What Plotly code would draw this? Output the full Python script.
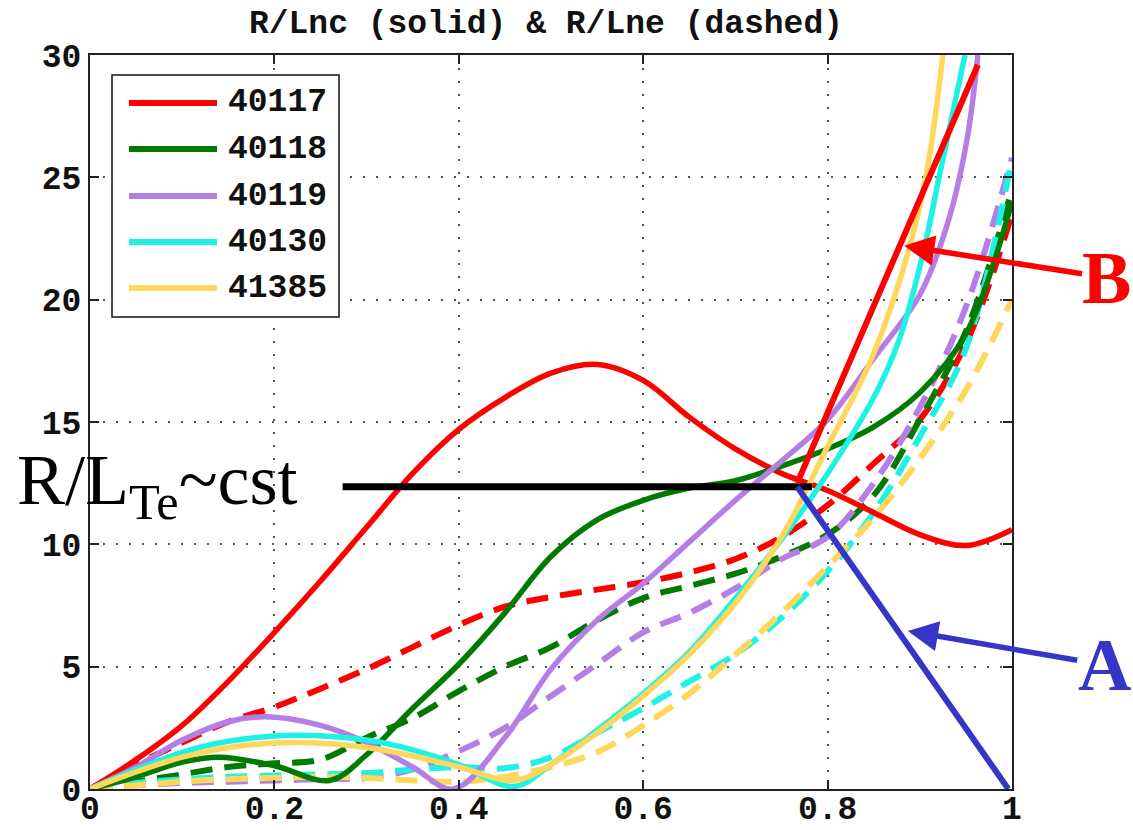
import plotly.graph_objects as go

# ---------------- data ----------------
title_text = "R/Lnc (solid) & R/Lne (dashed)"
shots = ["40117", "40118", "40119", "40130", "41385"]
colors = ["#ff0000", "#007a00", "#b47ee6", "#1ef2e4", "#ffd75c"]

# solid curves: R/Lnc
x_sol_40117 = [0, 0.05, 0.1, 0.15, 0.2, 0.25, 0.3, 0.35, 0.4, 0.45, 0.5, 0.55, 0.6, 0.65, 0.7, 0.75, 0.8, 0.85, 0.9, 0.95, 1.0]
y_sol_40117 = [0, 1.2, 2.6, 4.4, 6.4, 8.5, 10.7, 12.9, 14.7, 16.0, 17.0, 17.35, 16.7, 15.2, 13.9, 12.9, 12.2, 11.3, 10.4, 9.95, 10.6]

x_sol_40118 = [0, 0.05, 0.1, 0.14, 0.2, 0.26, 0.3, 0.35, 0.4, 0.45, 0.5, 0.55, 0.6, 0.65, 0.7, 0.75, 0.8, 0.85, 0.9, 0.95, 1.0]
y_sol_40118 = [0, 0.5, 1.1, 1.3, 0.95, 0.35, 1.4, 3.3, 5.1, 7.2, 9.5, 11.0, 11.8, 12.3, 12.6, 13.2, 13.9, 14.8, 16.2, 18.6, 24.0]

x_sol_40119 = [0, 0.05, 0.1, 0.15, 0.19, 0.25, 0.3, 0.35, 0.394, 0.45, 0.5, 0.55, 0.6, 0.65, 0.7, 0.75, 0.8, 0.85, 0.9, 0.93, 0.951, 0.963]
y_sol_40119 = [0, 0.9, 2.0, 2.75, 2.95, 2.6, 1.9, 0.9, 0.0, 2.1, 4.9, 6.9, 8.4, 10.1, 11.8, 13.4, 15.1, 17.6, 20.2, 23.1, 26.5, 30.0]

x_sol_40130 = [0, 0.05, 0.1, 0.15, 0.22, 0.3, 0.35, 0.4, 0.46, 0.5, 0.55, 0.6, 0.65, 0.7, 0.75, 0.8, 0.85, 0.878, 0.903, 0.922, 0.949]
y_sol_40130 = [0, 0.8, 1.5, 1.95, 2.2, 2.0, 1.6, 1.0, 0.1, 1.0, 2.4, 3.9, 5.6, 7.8, 10.2, 12.9, 16.0, 18.4, 21.8, 25.2, 30.0]

x_sol_41385 = [0, 0.05, 0.1, 0.15, 0.22, 0.3, 0.35, 0.4, 0.46, 0.5, 0.55, 0.6, 0.65, 0.7, 0.75, 0.8, 0.85, 0.9, 0.925]
y_sol_41385 = [0, 0.7, 1.3, 1.7, 1.9, 1.7, 1.35, 0.9, 0.35, 1.0, 2.3, 3.8, 5.5, 7.6, 10.3, 14.0, 17.8, 23.8, 30.0]

# dashed curves: R/Lne
x_dash = [0, 0.05, 0.1, 0.15, 0.2, 0.25, 0.3, 0.35, 0.4, 0.45, 0.5, 0.55, 0.6, 0.65, 0.7, 0.75, 0.8, 0.85, 0.9, 0.95, 1.0]
y_dash_40117 = [0, 1.0, 1.9, 2.75, 3.35, 4.1, 4.9, 5.8, 6.7, 7.45, 7.85, 8.15, 8.45, 8.85, 9.4, 10.3, 11.6, 13.3, 15.1, 18.2, 23.5]
y_dash_40118 = [0, 0.3, 0.6, 0.9, 1.05, 1.2, 2.1, 2.9, 4.0, 5.0, 5.8, 6.9, 7.8, 8.3, 8.8, 9.5, 10.4, 12.0, 15.1, 18.7, 24.5]
y_dash_40119 = [0, 0.15, 0.25, 0.3, 0.35, 0.4, 0.45, 0.8, 1.55, 2.5, 3.8, 5.1, 6.4, 7.2, 8.2, 9.4, 10.3, 12.5, 15.6, 19.7, 25.8]
y_dash_40130 = [0, 0.25, 0.4, 0.5, 0.55, 0.6, 0.65, 0.8, 0.9, 0.85, 1.3, 2.3, 3.3, 4.4, 5.5, 7.0, 8.9, 11.3, 14.4, 18.0, 25.8]
y_dash_41385 = [0, 0.15, 0.3, 0.4, 0.45, 0.5, 0.45, 0.35, 0.3, 0.5, 0.9, 1.5, 2.6, 3.9, 5.5, 7.2, 9.1, 11.1, 13.5, 16.3, 20.0]

x_ticks = [0, 0.2, 0.4, 0.6, 0.8, 1.0]
x_ticklabels = ["0", "0.2", "0.4", "0.6", "0.8", "1"]
y_ticks = [0, 5, 10, 15, 20, 25, 30]
y_ticklabels = ["0", "5", "10", "15", "20", "25", "30"]

# overlay annotation lines (data coords)
cst_line_x = [0.274, 0.783]
cst_line_y = [12.35, 12.35]
b_line_x = [0.767, 0.963]
b_line_y = [12.5, 29.6]
a_line_x = [0.767, 0.996]
a_line_y = [12.35, 0.0]
b_arrow_head = (0.883, 22.2)
b_label_pos = (1.103, 20.9)
a_arrow_head = (0.887, 6.46)
a_label_pos = (1.100, 5.07)

# ---------------- layout geometry ----------------
W, H = 1133, 830
PL, PR, PT, PB = 90, 1012, 55, 789   # plot area in px


def px_x(p):
    return (p - PL) / (PR - PL)


def px_y(p):
    return (PB - p) / (PB - PT)


MONO = "Liberation Mono"
SERIF = "Liberation Serif"

fig = go.Figure()

solids = [(x_sol_40117, y_sol_40117), (x_sol_40118, y_sol_40118), (x_sol_40119, y_sol_40119),
          (x_sol_40130, y_sol_40130), (x_sol_41385, y_sol_41385)]
dashes = [y_dash_40117, y_dash_40118, y_dash_40119, y_dash_40130, y_dash_41385]

for i, name in enumerate(shots):
    fig.add_trace(go.Scatter(x=x_dash, y=dashes[i], mode="lines", name=name + " R/Lne",
                             line=dict(color=colors[i], width=6, dash="22px,12px", shape="spline", smoothing=1.0),
                             showlegend=False))
for i, name in enumerate(shots):
    xs, ys = solids[i]
    fig.add_trace(go.Scatter(x=xs, y=ys, mode="lines", name=name,
                             line=dict(color=colors[i], width=5.5, shape="spline", smoothing=1.0),
                             showlegend=False))

# overlay lines
fig.add_trace(go.Scatter(x=cst_line_x, y=cst_line_y, mode="lines", line=dict(color="#000000", width=7),
                         showlegend=False, cliponaxis=False))
fig.add_trace(go.Scatter(x=a_line_x, y=a_line_y, mode="lines", line=dict(color="#3535c8", width=6),
                         showlegend=False, cliponaxis=False))
fig.add_trace(go.Scatter(x=b_line_x, y=b_line_y, mode="lines", line=dict(color="#ff0000", width=6),
                         showlegend=False, cliponaxis=False))

shapes = []
annotations = []

# manual legend
box = dict(x0=112, x1=339, y0=75, y1=317)
shapes.append(dict(type="rect", xref="paper", yref="paper", layer="above",
                   x0=px_x(box["x0"]), x1=px_x(box["x1"]), y0=px_y(box["y1"]), y1=px_y(box["y0"]),
                   fillcolor="white", line=dict(color="#111111", width=1.5)))
row_y = [103, 149, 196, 242, 288]
for i, name in enumerate(shots):
    shapes.append(dict(type="line", xref="paper", yref="paper", layer="above",
                       x0=px_x(129), x1=px_x(217), y0=px_y(row_y[i]), y1=px_y(row_y[i]),
                       line=dict(color=colors[i], width=6)))
    annotations.append(dict(xref="paper", yref="paper", x=px_x(226), y=px_y(row_y[i]),
                            xanchor="left", yanchor="middle", text=name, showarrow=False,
                            font=dict(family=MONO, size=33, color="#111111", weight="bold")))

# labelled arrows (text sits at the tail, arrow points to the head)
annotations.append(dict(x=b_arrow_head[0], y=b_arrow_head[1], xref="x", yref="y",
                        ax=b_label_pos[0], ay=b_label_pos[1], axref="x", ayref="y",
                        text="B", showarrow=True, arrowhead=2, arrowsize=1.1, arrowwidth=5.5,
                        arrowcolor="#ff0000", borderpad=0,
                        font=dict(family=SERIF, size=74, color="#ff0000", weight="bold")))
annotations.append(dict(x=a_arrow_head[0], y=a_arrow_head[1], xref="x", yref="y",
                        ax=a_label_pos[0], ay=a_label_pos[1], axref="x", ayref="y",
                        text="A", showarrow=True, arrowhead=2, arrowsize=1.1, arrowwidth=5.5,
                        arrowcolor="#3535c8", borderpad=0,
                        font=dict(family=SERIF, size=74, color="#3535c8", weight="bold")))
annotations.append(dict(xref="paper", yref="paper", x=px_x(15), y=px_y(485), xanchor="left",
                        yanchor="middle", text="R/L<sub>Te</sub>~cst", showarrow=False,
                        font=dict(family=SERIF, size=72, color="#000000")))

axis_common = dict(showline=True, linecolor="#222222", linewidth=2, mirror="ticks",
                   ticks="inside", ticklen=9, tickwidth=2, tickcolor="#222222",
                   showgrid=True, gridcolor="#555555", gridwidth=2, griddash="2px,11px",
                   zeroline=False, automargin=False,
                   tickfont=dict(family=MONO, size=33, color="#111111", weight="bold"))

fig.update_layout(
    width=W, height=H,
    margin=dict(l=PL, r=W - PR, t=PT, b=H - PB),
    paper_bgcolor="white", plot_bgcolor="white",
    title=dict(text=title_text, x=546 / W, xanchor="center", y=1 - 21 / H, yanchor="middle",
               font=dict(family=MONO, size=33, color="#111111", weight="bold")),
    xaxis=dict(range=[0, 1], tickvals=x_ticks, ticktext=x_ticklabels, ticklabelstandoff=-12, **axis_common),
    yaxis=dict(range=[0, 30], tickvals=y_ticks, ticktext=y_ticklabels, **axis_common),
    shapes=shapes, annotations=annotations, showlegend=False,
)

fig.write_html("out.html")
